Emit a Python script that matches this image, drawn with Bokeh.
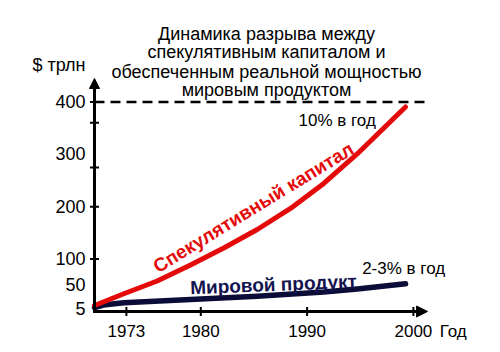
from bokeh.plotting import figure
from bokeh.models import Range1d, FixedTicker, Label, Arrow, NormalHead
from bokeh.embed import file_html
from bokeh.resources import INLINE

# ---- data ----
capital_years = [1970.0, 1972.76, 1975.9, 1979.03, 1982.16, 1985.31, 1988.44, 1991.57, 1994.71, 1997.85, 1999.26]
capital_values = [11.5, 33.8, 58.2, 88.7, 121.2, 156.5, 196.6, 244.3, 300.6, 362.6, 390.3]

product_years = [1970.0, 1971.03, 1972.76, 1979.03, 1985.31, 1991.57, 1994.71, 1999.26]
product_values = [7.5, 13, 16.6, 23, 29, 37, 43, 53]

year_ticks = [1973, 1980, 1990, 2000]
year_tick_labels = ["1973", "1980", "1990", "2000"]
value_ticks = [5, 50, 100, 200, 300, 400]
value_tick_labels = ["5", "50", "100", "200", "300", "400"]
marked_values = [100, 200, 275, 360, 400]
limit_value = 400

title_lines = [
    "Динамика разрыва между",
    "спекулятивным капиталом и",
    "обеспеченным реальной мощностью",
    "мировым продуктом",
]
capital_name = "Спекулятивный капитал"
product_name = "Мировой продукт"
capital_rate = "10% в год"
product_rate = "2-3% в год"
y_unit = "$ трлн"
x_name = "Год"

# ---- layout / style ----
RED = "#e50a0a"
NAVY = "#0c0c38"
NAVY_TEXT = "#13134f"
FONT = "Liberation Sans"

AXIS_YEAR = 1970.0      # where the vertical axis stands
AXIS_VALUE = 0          # where the horizontal axis stands
X_ARROW_END = 2001.33
Y_ARROW_END = 444.7
X_NAME_POS = 2003.75
Y_UNIT_POS = 469.5

p = figure(width=500, height=352,
           x_range=Range1d(1969.3415, 2008.194), y_range=Range1d(-13.36, 593.51),
           output_backend="svg", toolbar_location=None,
           min_border_left=87, min_border_right=0, min_border_top=0, min_border_bottom=34)
p.outline_line_color = None
p.grid.visible = False
p.background_fill_color = "white"
p.border_fill_color = "white"

# x axis: labels only (lines and ticks drawn at the origin inside the frame)
xa = p.xaxis[0]
xa.ticker = FixedTicker(ticks=year_ticks + [X_NAME_POS])
xa.major_label_overrides = {**{t: l for t, l in zip(year_ticks, year_tick_labels)}, X_NAME_POS: x_name}
xa.axis_line_color = None
xa.major_tick_line_color = None
xa.minor_tick_line_color = None
xa.major_tick_in = 0
xa.major_tick_out = 0
xa.major_label_text_font = FONT
xa.major_label_text_font_size = "17px"
xa.major_label_text_color = "black"
xa.major_label_standoff = 3

ya = p.yaxis[0]
ya.ticker = FixedTicker(ticks=value_ticks + [Y_UNIT_POS])
ya.major_label_overrides = {**{t: l for t, l in zip(value_ticks, value_tick_labels)}, Y_UNIT_POS: y_unit}
ya.axis_line_color = None
ya.major_tick_line_color = None
ya.minor_tick_line_color = None
ya.major_tick_in = 0
ya.major_tick_out = 0
ya.major_label_text_font = FONT
ya.major_label_text_font_size = "18px"
ya.major_label_text_color = "black"
ya.major_label_standoff = 2

# axis lines with arrow heads
p.add_layout(Arrow(end=NormalHead(size=10, fill_color="black", line_color="black"),
                   x_start=AXIS_YEAR, y_start=-2.86, x_end=AXIS_YEAR, y_end=Y_ARROW_END,
                   line_width=3, line_color="black"))
p.add_layout(Arrow(end=NormalHead(size=11, fill_color="black", line_color="black"),
                   x_start=1969.859, y_start=AXIS_VALUE, x_end=X_ARROW_END, y_end=AXIS_VALUE,
                   line_width=3, line_color="black"))

# tick marks crossing the axes
p.scatter([AXIS_YEAR] * len(marked_values), marked_values, marker="dash", size=9,
          line_width=2, line_color="black")
p.scatter(year_ticks, [AXIS_VALUE] * len(year_ticks), marker="dash", size=9, angle=90,
          angle_units="deg", line_width=2, line_color="black")

# dashed limit line
p.segment(x0=[AXIS_YEAR], y0=[limit_value], x1=[2001.42], y1=[limit_value],
          line_dash="10 6", line_width=2.5, line_color="black")

# curves
p.line(product_years, product_values, line_width=5.5, line_color=NAVY, line_cap="round", line_join="round")
p.line(capital_years, capital_values, line_width=5, line_color=RED, line_cap="round", line_join="round")


def lab(text, x, y, size, align="left", baseline="alphabetic", color="black", style="normal", angle=0):
    p.add_layout(Label(x=x, y=y, text=text, text_font=FONT, text_font_size=size,
                       text_align=align, text_baseline=baseline, text_color=color,
                       text_font_style=style, angle=angle, angle_units="deg"))


for line, yv in zip(title_lines, [530.5, 494.3, 458.0, 422.7]):
    lab(line, 1986.18, yv, "18px", align="center")

lab(capital_rate, 1989.19, 364.5, "17px")
lab(product_rate, 1995.18, 81.5, "17px")
lab(capital_name, 1984.96, 198.5, "19px", align="center", baseline="middle", color=RED, style="bold", angle=31.5)
lab(product_name, 1986.84, 51.5, "19px", align="center", baseline="middle", color=NAVY_TEXT, style="bold", angle=2.3)

open("out.html", "w").write(file_html(p, INLINE))
